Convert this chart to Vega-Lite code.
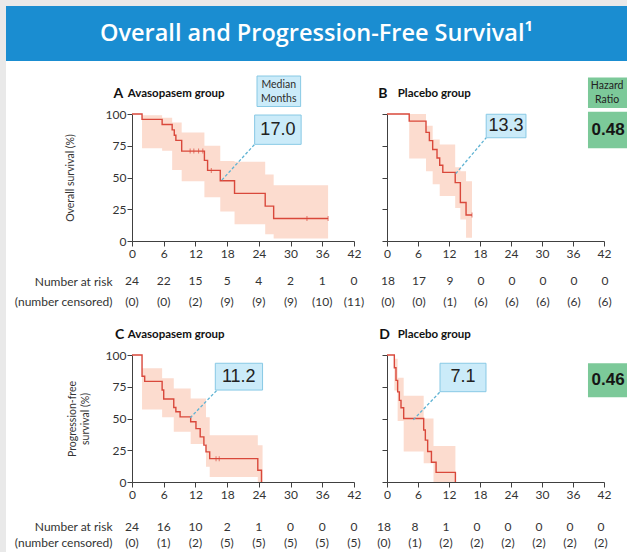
{
 "$schema": "https://vega.github.io/schema/vega-lite/v6.json",
 "padding": 0,
 "background": "#ffffff",
 "spacing": 0,
 "config": {
  "view": {"stroke": null},
  "axis": {"grid": false, "domainColor": "#404040", "tickColor": "#404040", "labelColor": "#333333", "labelFont": "Lato", "labelFontSize": 12, "tickSize": 5, "labelPadding": 1, "titleFont": "Lato", "titleFontSize": 10.5, "titleFontWeight": "normal", "titleColor": "#333333", "labelFlush": false, "labelOverlap": false},
  "axisX": {"labelPadding": 2}
 },
 "datasets": {
  "kmA": [{"t":0,"s":100},{"t":1.9,"s":95.8},{"t":5.7,"s":91.7},{"t":7.6,"s":87.5},{"t":8.0,"s":83.3},{"t":8.3,"s":79.2},{"t":9.4,"s":70.8},{"t":13.7,"s":63.5},{"t":14.3,"s":55.6},{"t":16.7,"s":47.4},{"t":19.4,"s":37.5},{"t":25.2,"s":27.5},{"t":26.8,"s":17.7},{"t":37.1,"s":17.7}],
  "ciA": [{"t":1.9,"lo":73,"hi":99},{"t":5.7,"lo":71,"hi":97},{"t":7.6,"lo":56,"hi":93.4},{"t":9.4,"lo":47,"hi":85.4},{"t":13.7,"lo":34.4,"hi":75},{"t":16.7,"lo":23.3,"hi":63},{"t":19.4,"lo":13.2,"hi":62.4},{"t":25.2,"lo":5.3,"hi":52.4},{"t":26.8,"lo":2,"hi":43.9},{"t":37.1,"lo":2,"hi":43.9}],
  "censA": [{"t":11.0,"s":70.8},{"t":11.7,"s":70.8},{"t":12.6,"s":70.8},{"t":13.4,"s":70.8},{"t":15.0,"s":55.6},{"t":33.1,"s":17.7},{"t":37.1,"s":17.7}],
  "kmB": [{"t":0,"s":100},{"t":4.3,"s":94.4},{"t":7.55,"s":85.5},{"t":8.2,"s":79},{"t":8.84,"s":72},{"t":9.68,"s":65.3},{"t":10.2,"s":59.7},{"t":10.8,"s":54},{"t":13.2,"s":46},{"t":14.2,"s":30.3},{"t":15.3,"s":20.5},{"t":16.45,"s":20.5}],
  "ciB": [{"t":4.3,"lo":65,"hi":100},{"t":7.55,"lo":55,"hi":90.8},{"t":8.84,"lo":44.7,"hi":80},{"t":10.2,"lo":35.5,"hi":76},{"t":13.2,"lo":26,"hi":58},{"t":14.2,"lo":17,"hi":55},{"t":15.3,"lo":2.6,"hi":47},{"t":16.45,"lo":2.6,"hi":47}],
  "censB": [{"t":16.45,"s":20.5}],
  "kmC": [{"t":0,"s":100},{"t":1.9,"s":83.3},{"t":2.4,"s":79.2},{"t":5.7,"s":72.4},{"t":6.0,"s":65.3},{"t":7.9,"s":58.7},{"t":8.3,"s":55.3},{"t":9.1,"s":51.3},{"t":11.1,"s":47.4},{"t":12.1,"s":42},{"t":12.9,"s":35.5},{"t":13.6,"s":29},{"t":14.0,"s":23.7},{"t":14.7,"s":18.4},{"t":23.8,"s":9.2},{"t":24.5,"s":0}],
  "ciC": [{"t":1.9,"lo":57,"hi":89.5},{"t":5.7,"lo":51,"hi":81.6},{"t":7.9,"lo":39.5,"hi":73.7},{"t":11.1,"lo":30,"hi":65.8},{"t":14.0,"lo":12,"hi":51},{"t":14.7,"lo":4,"hi":36.8},{"t":23.8,"lo":0,"hi":29},{"t":24.7,"lo":0,"hi":29}],
  "censC": [{"t":15.9,"s":18.4},{"t":16.5,"s":18.4}],
  "kmD": [{"t":0,"s":100},{"t":1.42,"s":90},{"t":1.74,"s":80},{"t":2.06,"s":71},{"t":2.39,"s":64.3},{"t":2.71,"s":58.5},{"t":3.23,"s":50},{"t":7.1,"s":41},{"t":7.42,"s":33},{"t":7.87,"s":24},{"t":8.6,"s":15.5},{"t":9.5,"s":7.6},{"t":13.24,"s":0}],
  "ciD": [{"t":1.42,"lo":72,"hi":97},{"t":2.06,"lo":48,"hi":82},{"t":3.23,"lo":24,"hi":68},{"t":7.1,"lo":14.7,"hi":50},{"t":9.0,"lo":0,"hi":28.3},{"t":13.24,"lo":0,"hi":28.3}],
  "medA": [{"label":"17.0","head":"Median\nMonths"}],
  "medB": [{"label":"13.3","hr":"0.48","head":"Hazard\nRatio"}],
  "medC": [{"label":"11.2"}],
  "medD": [{"label":"7.1","hr":"0.46"}],
  "grpA": [{"letter":"A","name":"Avasopasem group"}],
  "grpB": [{"letter":"B","name":"Placebo group"}],
  "grpC": [{"letter":"C","name":"Avasopasem group"}],
  "grpD": [{"letter":"D","name":"Placebo group"}],
  "rA": [{"t":0,"row":"Number at risk","v":"24"},{"t":6,"row":"Number at risk","v":"22"},{"t":12,"row":"Number at risk","v":"15"},{"t":18,"row":"Number at risk","v":"5"},{"t":24,"row":"Number at risk","v":"4"},{"t":30,"row":"Number at risk","v":"2"},{"t":36,"row":"Number at risk","v":"1"},{"t":42,"row":"Number at risk","v":"0"},
         {"t":0,"row":"(number censored)","v":"(0)"},{"t":6,"row":"(number censored)","v":"(0)"},{"t":12,"row":"(number censored)","v":"(2)"},{"t":18,"row":"(number censored)","v":"(9)"},{"t":24,"row":"(number censored)","v":"(9)"},{"t":30,"row":"(number censored)","v":"(9)"},{"t":36,"row":"(number censored)","v":"(10)"},{"t":42,"row":"(number censored)","v":"(11)"}],
  "rB": [{"t":0,"row":"Number at risk","v":"18"},{"t":6,"row":"Number at risk","v":"17"},{"t":12,"row":"Number at risk","v":"9"},{"t":18,"row":"Number at risk","v":"0"},{"t":24,"row":"Number at risk","v":"0"},{"t":30,"row":"Number at risk","v":"0"},{"t":36,"row":"Number at risk","v":"0"},{"t":42,"row":"Number at risk","v":"0"},
         {"t":0,"row":"(number censored)","v":"(0)"},{"t":6,"row":"(number censored)","v":"(0)"},{"t":12,"row":"(number censored)","v":"(1)"},{"t":18,"row":"(number censored)","v":"(6)"},{"t":24,"row":"(number censored)","v":"(6)"},{"t":30,"row":"(number censored)","v":"(6)"},{"t":36,"row":"(number censored)","v":"(6)"},{"t":42,"row":"(number censored)","v":"(6)"}],
  "rC": [{"t":0,"row":"Number at risk","v":"24"},{"t":6,"row":"Number at risk","v":"16"},{"t":12,"row":"Number at risk","v":"10"},{"t":18,"row":"Number at risk","v":"2"},{"t":24,"row":"Number at risk","v":"1"},{"t":30,"row":"Number at risk","v":"0"},{"t":36,"row":"Number at risk","v":"0"},{"t":42,"row":"Number at risk","v":"0"},
         {"t":0,"row":"(number censored)","v":"(0)"},{"t":6,"row":"(number censored)","v":"(1)"},{"t":12,"row":"(number censored)","v":"(2)"},{"t":18,"row":"(number censored)","v":"(5)"},{"t":24,"row":"(number censored)","v":"(5)"},{"t":30,"row":"(number censored)","v":"(5)"},{"t":36,"row":"(number censored)","v":"(5)"},{"t":42,"row":"(number censored)","v":"(5)"}],
  "rD": [{"t":0,"row":"Number at risk","v":"18"},{"t":6,"row":"Number at risk","v":"8"},{"t":12,"row":"Number at risk","v":"1"},{"t":18,"row":"Number at risk","v":"0"},{"t":24,"row":"Number at risk","v":"0"},{"t":30,"row":"Number at risk","v":"0"},{"t":36,"row":"Number at risk","v":"0"},{"t":42,"row":"Number at risk","v":"0"},
         {"t":0,"row":"(number censored)","v":"(0)"},{"t":6,"row":"(number censored)","v":"(1)"},{"t":12,"row":"(number censored)","v":"(2)"},{"t":18,"row":"(number censored)","v":"(2)"},{"t":24,"row":"(number censored)","v":"(2)"},{"t":30,"row":"(number censored)","v":"(2)"},{"t":36,"row":"(number censored)","v":"(2)"},{"t":42,"row":"(number censored)","v":"(2)"}]
 },
 "hconcat": [
  {"width": 6, "height": 552, "data": {"values": []}, "mark": "point", "view": {"fill": "#e9e9e9", "stroke": null}},
  {"spacing": 14, "vconcat": [
   {"spacing": 0, "vconcat": [
    {"width": 621, "height": 6, "data": {"values": []}, "mark": "point", "view": {"fill": "#e9e9e9", "stroke": null}},
    {"width": 621, "height": 55, "data": {"values": [{"title": "Overall and Progression-Free Survival¹"}]}, "mark": {"type": "text", "font": "Open Sans", "fontSize": 23.5, "fontWeight": 600, "color": "#ffffff"}, "encoding": {"text": {"field": "title"}}, "view": {"fill": "#1a8dd1", "stroke": null}}
   ]},
   {"spacing": 7, "hconcat": [
    {"width": 1, "height": 1, "data": {"values": []}, "mark": "point"},
    {"spacing": 4, "vconcat": [
     {"spacing": 17, "hconcat": [
      {"width": 222, "height": 127, "layer": [
       {"data": {"name": "ciA"}, "mark": {"type": "area", "interpolate": "step-after", "color": "#fcdccf"},
        "encoding": {"x": {"field": "t", "type": "quantitative", "scale": {"domain": [0, 42], "nice": false}, "axis": {"values": [0,6,12,18,24,30,36,42], "title": null}},
                     "y": {"field": "lo", "type": "quantitative", "scale": {"domain": [0, 100], "nice": false}, "axis": {"values": [0,25,50,75,100], "title": "Overall survival (%)", "titlePadding": 30}},
                     "y2": {"field": "hi"}}},
       {"data": {"name": "kmA"}, "mark": {"type": "line", "interpolate": "step-after", "color": "#d9483b", "strokeWidth": 1.4}, "encoding": {"x": {"field": "t", "type": "quantitative", "axis": {"values": [0,6,12,18,24,30,36,42], "title": null}}, "y": {"field": "s", "type": "quantitative", "axis": {"values": [0,25,50,75,100], "title": "Overall survival (%)", "titlePadding": 30}}}},
       {"data": {"name": "censA"}, "mark": {"type": "tick", "orient": "vertical", "size": 5, "thickness": 1, "color": "#d9483b"}, "encoding": {"x": {"field": "t", "type": "quantitative", "axis": {"values": [0,6,12,18,24,30,36,42], "title": null}}, "y": {"field": "s", "type": "quantitative", "axis": {"values": [0,25,50,75,100], "title": "Overall survival (%)", "titlePadding": 30}}}},
       {"data": {"name": "medA"}, "mark": {"type": "rule", "strokeDash": [3, 2], "color": "#5fb3d3", "strokeWidth": 1.3}, "encoding": {"x": {"datum": 17.0, "axis": {"values": [0,6,12,18,24,30,36,42], "title": null}}, "y": {"datum": 48, "axis": {"values": [0,25,50,75,100], "title": "Overall survival (%)", "titlePadding": 30}}, "x2": {"datum": 23.2}, "y2": {"datum": 76.1}}},
       {"data": {"name": "medA"}, "mark": {"type": "rect", "fill": "#cbebf9", "stroke": "#88c9e5", "strokeWidth": 1}, "encoding": {"x": {"datum": 23.65, "axis": {"values": [0,6,12,18,24,30,36,42], "title": null}}, "x2": {"datum": 31.9}, "y": {"datum": 105.9, "axis": {"values": [0,25,50,75,100], "title": "Overall survival (%)", "titlePadding": 30}}, "y2": {"datum": 129.9}}},
       {"data": {"name": "medA"}, "mark": {"type": "text", "font": "Lato", "fontSize": 10.5, "lineBreak": "\n", "lineHeight": 14.5, "color": "#2b2b2b"}, "encoding": {"x": {"datum": 27.76, "axis": {"values": [0,6,12,18,24,30,36,42], "title": null}}, "y": {"datum": 123.2, "axis": {"values": [0,25,50,75,100], "title": "Overall survival (%)", "titlePadding": 30}}, "text": {"field": "head"}}},
       {"data": {"name": "medA"}, "mark": {"type": "rect", "fill": "#cbebf9", "stroke": "#88c9e5", "strokeWidth": 1}, "encoding": {"x": {"datum": 23.2, "axis": {"values": [0,6,12,18,24,30,36,42], "title": null}}, "x2": {"datum": 32.0}, "y": {"datum": 76.1, "axis": {"values": [0,25,50,75,100], "title": "Overall survival (%)", "titlePadding": 30}}, "y2": {"datum": 99.2}}},
       {"data": {"name": "medA"}, "mark": {"type": "text", "font": "Liberation Sans", "fontSize": 18, "color": "#222222"}, "encoding": {"x": {"datum": 27.6, "axis": {"values": [0,6,12,18,24,30,36,42], "title": null}}, "y": {"datum": 87.6, "axis": {"values": [0,25,50,75,100], "title": "Overall survival (%)", "titlePadding": 30}}, "text": {"field": "label"}}},
       {"data": {"name": "grpA"}, "mark": {"type": "text", "align": "left", "font": "Lato", "fontSize": 14, "fontWeight": "bold", "color": "#111111"}, "encoding": {"x": {"datum": -3.5, "axis": {"values": [0,6,12,18,24,30,36,42], "title": null}}, "y": {"datum": 115.7, "axis": {"values": [0,25,50,75,100], "title": "Overall survival (%)", "titlePadding": 30}}, "text": {"field": "letter"}}},
       {"data": {"name": "grpA"}, "mark": {"type": "text", "align": "left", "font": "Lato", "fontSize": 11.5, "fontWeight": "bold", "color": "#111111"}, "encoding": {"x": {"datum": -0.8, "axis": {"values": [0,6,12,18,24,30,36,42], "title": null}}, "y": {"datum": 115.7, "axis": {"values": [0,25,50,75,100], "title": "Overall survival (%)", "titlePadding": 30}}, "text": {"field": "name"}}}
      ]},
      {"width": 217, "height": 127, "layer": [
       {"data": {"name": "ciB"}, "mark": {"type": "area", "interpolate": "step-after", "color": "#fcdccf"},
        "encoding": {"x": {"field": "t", "type": "quantitative", "scale": {"domain": [0, 42], "nice": false}, "axis": {"values": [0,6,12,18,24,30,36,42], "title": null}},
                     "y": {"field": "lo", "type": "quantitative", "scale": {"domain": [0, 100], "nice": false}, "axis": {"values": [0,25,50,75,100], "title": null, "labels": false}},
                     "y2": {"field": "hi"}}},
       {"data": {"name": "kmB"}, "mark": {"type": "line", "interpolate": "step-after", "color": "#d9483b", "strokeWidth": 1.4}, "encoding": {"x": {"field": "t", "type": "quantitative", "axis": {"values": [0,6,12,18,24,30,36,42], "title": null}}, "y": {"field": "s", "type": "quantitative", "axis": {"values": [0,25,50,75,100], "title": null, "labels": false}}}},
       {"data": {"name": "censB"}, "mark": {"type": "tick", "orient": "vertical", "size": 5, "thickness": 1, "color": "#d9483b"}, "encoding": {"x": {"field": "t", "type": "quantitative", "axis": {"values": [0,6,12,18,24,30,36,42], "title": null}}, "y": {"field": "s", "type": "quantitative", "axis": {"values": [0,25,50,75,100], "title": null, "labels": false}}}},
       {"data": {"name": "medB"}, "mark": {"type": "rule", "strokeDash": [3, 2], "color": "#5fb3d3", "strokeWidth": 1.3}, "encoding": {"x": {"datum": 13.3, "axis": {"values": [0,6,12,18,24,30,36,42], "title": null}}, "y": {"datum": 53, "axis": {"values": [0,25,50,75,100], "title": null, "labels": false}}, "x2": {"datum": 19.2}, "y2": {"datum": 81.3}}},
       {"data": {"name": "medB"}, "mark": {"type": "rect", "fill": "#cbebf9", "stroke": "#88c9e5", "strokeWidth": 1}, "encoding": {"x": {"datum": 19.2, "axis": {"values": [0,6,12,18,24,30,36,42], "title": null}}, "x2": {"datum": 26.9}, "y": {"datum": 81.3, "axis": {"values": [0,25,50,75,100], "title": null, "labels": false}}, "y2": {"datum": 99.8}}},
       {"data": {"name": "medB"}, "mark": {"type": "text", "font": "Liberation Sans", "fontSize": 18, "color": "#222222"}, "encoding": {"x": {"datum": 23.05, "axis": {"values": [0,6,12,18,24,30,36,42], "title": null}}, "y": {"datum": 90.5, "axis": {"values": [0,25,50,75,100], "title": null, "labels": false}}, "text": {"field": "label"}}},
       {"data": {"name": "medB"}, "mark": {"type": "rect", "fill": "#7cc999"}, "encoding": {"x": {"datum": 38.9, "axis": {"values": [0,6,12,18,24,30,36,42], "title": null}}, "x2": {"datum": 46.6}, "y": {"datum": 104.7, "axis": {"values": [0,25,50,75,100], "title": null, "labels": false}}, "y2": {"datum": 128.7}}},
       {"data": {"name": "medB"}, "mark": {"type": "text", "font": "Lato", "fontSize": 10.5, "lineBreak": "\n", "lineHeight": 14, "color": "#222222"}, "encoding": {"x": {"datum": 42.6, "axis": {"values": [0,6,12,18,24,30,36,42], "title": null}}, "y": {"datum": 122, "axis": {"values": [0,25,50,75,100], "title": null, "labels": false}}, "text": {"field": "head"}}},
       {"data": {"name": "medB"}, "mark": {"type": "rect", "fill": "#7cc999"}, "encoding": {"x": {"datum": 38.9, "axis": {"values": [0,6,12,18,24,30,36,42], "title": null}}, "x2": {"datum": 46.6}, "y": {"datum": 73, "axis": {"values": [0,25,50,75,100], "title": null, "labels": false}}, "y2": {"datum": 101.8}}},
       {"data": {"name": "medB"}, "mark": {"type": "text", "font": "Liberation Sans", "fontSize": 17, "fontWeight": "bold", "color": "#151515"}, "encoding": {"x": {"datum": 42.8, "axis": {"values": [0,6,12,18,24,30,36,42], "title": null}}, "y": {"datum": 87.4, "axis": {"values": [0,25,50,75,100], "title": null, "labels": false}}, "text": {"field": "hr"}}},
       {"data": {"name": "grpB"}, "mark": {"type": "text", "align": "left", "font": "Lato", "fontSize": 14, "fontWeight": "bold", "color": "#111111"}, "encoding": {"x": {"datum": -1.7, "axis": {"values": [0,6,12,18,24,30,36,42], "title": null}}, "y": {"datum": 115.7, "axis": {"values": [0,25,50,75,100], "title": null, "labels": false}}, "text": {"field": "letter"}}},
       {"data": {"name": "grpB"}, "mark": {"type": "text", "align": "left", "font": "Lato", "fontSize": 11.5, "fontWeight": "bold", "color": "#111111"}, "encoding": {"x": {"datum": 2.07, "axis": {"values": [0,6,12,18,24,30,36,42], "title": null}}, "y": {"datum": 115.7, "axis": {"values": [0,25,50,75,100], "title": null, "labels": false}}, "text": {"field": "name"}}}
      ]}
     ]},
     {"spacing": 16, "hconcat": [
      {"width": 222, "height": 61, "data": {"name": "rA"}, "mark": {"type": "text", "font": "Lato", "fontSize": 12, "color": "#333333"},
       "encoding": {"x": {"field": "t", "type": "quantitative", "scale": {"domain": [0, 42], "nice": false}, "axis": null},
                    "y": {"field": "row", "type": "nominal", "sort": ["Number at risk", "(number censored)"], "scale": {"type": "point", "padding": 1.294, "align": 0.4545}, "axis": {"title": null, "domain": false, "ticks": false, "tickSize": 0, "labelPadding": 20, "labelFontSize": 12, "labelColor": "#333333"}},
                    "text": {"field": "v"}}},
      {"width": 217, "height": 61, "data": {"name": "rB"}, "mark": {"type": "text", "font": "Lato", "fontSize": 12, "color": "#333333"},
       "encoding": {"x": {"field": "t", "type": "quantitative", "scale": {"domain": [0, 42], "nice": false}, "axis": null},
                    "y": {"field": "row", "type": "nominal", "sort": ["Number at risk", "(number censored)"], "scale": {"type": "point", "padding": 1.294, "align": 0.4545}, "axis": null},
                    "text": {"field": "v"}}}
     ]},
     {"spacing": 18, "hconcat": [
      {"width": 222, "height": 127, "layer": [
       {"data": {"name": "ciC"}, "mark": {"type": "area", "interpolate": "step-after", "color": "#fcdccf"},
        "encoding": {"x": {"field": "t", "type": "quantitative", "scale": {"domain": [0, 42], "nice": false}, "axis": {"values": [0,6,12,18,24,30,36,42], "title": null}},
                     "y": {"field": "lo", "type": "quantitative", "scale": {"domain": [0, 100], "nice": false}, "axis": {"values": [0,25,50,75,100], "title": ["Progression-free", "survival (%)"], "titlePadding": 15}},
                     "y2": {"field": "hi"}}},
       {"data": {"name": "kmC"}, "mark": {"type": "line", "interpolate": "step-after", "color": "#d9483b", "strokeWidth": 1.4}, "encoding": {"x": {"field": "t", "type": "quantitative", "axis": {"values": [0,6,12,18,24,30,36,42], "title": null}}, "y": {"field": "s", "type": "quantitative", "axis": {"values": [0,25,50,75,100], "title": ["Progression-free", "survival (%)"], "titlePadding": 15}}}},
       {"data": {"name": "censC"}, "mark": {"type": "tick", "orient": "vertical", "size": 5, "thickness": 1, "color": "#d9483b"}, "encoding": {"x": {"field": "t", "type": "quantitative", "axis": {"values": [0,6,12,18,24,30,36,42], "title": null}}, "y": {"field": "s", "type": "quantitative", "axis": {"values": [0,25,50,75,100], "title": ["Progression-free", "survival (%)"], "titlePadding": 15}}}},
       {"data": {"name": "medC"}, "mark": {"type": "rule", "strokeDash": [3, 2], "color": "#5fb3d3", "strokeWidth": 1.3}, "encoding": {"x": {"datum": 11.0, "axis": {"values": [0,6,12,18,24,30,36,42], "title": null}}, "y": {"datum": 50.5, "axis": {"values": [0,25,50,75,100], "title": ["Progression-free", "survival (%)"], "titlePadding": 15}}, "x2": {"datum": 16.1}, "y2": {"datum": 72.4}}},
       {"data": {"name": "medC"}, "mark": {"type": "rect", "fill": "#cbebf9", "stroke": "#88c9e5", "strokeWidth": 1}, "encoding": {"x": {"datum": 15.76, "axis": {"values": [0,6,12,18,24,30,36,42], "title": null}}, "x2": {"datum": 24.7}, "y": {"datum": 72.4, "axis": {"values": [0,25,50,75,100], "title": ["Progression-free", "survival (%)"], "titlePadding": 15}}, "y2": {"datum": 93.5}}},
       {"data": {"name": "medC"}, "mark": {"type": "text", "font": "Liberation Sans", "fontSize": 18, "color": "#222222"}, "encoding": {"x": {"datum": 20.2, "axis": {"values": [0,6,12,18,24,30,36,42], "title": null}}, "y": {"datum": 83, "axis": {"values": [0,25,50,75,100], "title": ["Progression-free", "survival (%)"], "titlePadding": 15}}, "text": {"field": "label"}}},
       {"data": {"name": "grpC"}, "mark": {"type": "text", "align": "left", "font": "Lato", "fontSize": 14, "fontWeight": "bold", "color": "#111111"}, "encoding": {"x": {"datum": -3.2, "axis": {"values": [0,6,12,18,24,30,36,42], "title": null}}, "y": {"datum": 115.7, "axis": {"values": [0,25,50,75,100], "title": ["Progression-free", "survival (%)"], "titlePadding": 15}}, "text": {"field": "letter"}}},
       {"data": {"name": "grpC"}, "mark": {"type": "text", "align": "left", "font": "Lato", "fontSize": 11.5, "fontWeight": "bold", "color": "#111111"}, "encoding": {"x": {"datum": -0.8, "axis": {"values": [0,6,12,18,24,30,36,42], "title": null}}, "y": {"datum": 115.7, "axis": {"values": [0,25,50,75,100], "title": ["Progression-free", "survival (%)"], "titlePadding": 15}}, "text": {"field": "name"}}}
      ]},
      {"width": 217, "height": 127, "layer": [
       {"data": {"name": "ciD"}, "mark": {"type": "area", "interpolate": "step-after", "color": "#fcdccf"},
        "encoding": {"x": {"field": "t", "type": "quantitative", "scale": {"domain": [0, 42], "nice": false}, "axis": {"values": [0,6,12,18,24,30,36,42], "title": null}},
                     "y": {"field": "lo", "type": "quantitative", "scale": {"domain": [0, 100], "nice": false}, "axis": {"values": [0,25,50,75,100], "title": null, "labels": false}},
                     "y2": {"field": "hi"}}},
       {"data": {"name": "kmD"}, "mark": {"type": "line", "interpolate": "step-after", "color": "#d9483b", "strokeWidth": 1.4}, "encoding": {"x": {"field": "t", "type": "quantitative", "axis": {"values": [0,6,12,18,24,30,36,42], "title": null}}, "y": {"field": "s", "type": "quantitative", "axis": {"values": [0,25,50,75,100], "title": null, "labels": false}}}},
       {"data": {"name": "medD"}, "mark": {"type": "rule", "strokeDash": [3, 2], "color": "#5fb3d3", "strokeWidth": 1.3}, "encoding": {"x": {"datum": 5.1, "axis": {"values": [0,6,12,18,24,30,36,42], "title": null}}, "y": {"datum": 49, "axis": {"values": [0,25,50,75,100], "title": null, "labels": false}}, "x2": {"datum": 10.3}, "y2": {"datum": 71.1}}},
       {"data": {"name": "medD"}, "mark": {"type": "rect", "fill": "#cbebf9", "stroke": "#88c9e5", "strokeWidth": 1}, "encoding": {"x": {"datum": 10.26, "axis": {"values": [0,6,12,18,24,30,36,42], "title": null}}, "x2": {"datum": 19.16}, "y": {"datum": 71.1, "axis": {"values": [0,25,50,75,100], "title": null, "labels": false}}, "y2": {"datum": 93.5}}},
       {"data": {"name": "medD"}, "mark": {"type": "text", "font": "Liberation Sans", "fontSize": 18, "color": "#222222"}, "encoding": {"x": {"datum": 14.7, "axis": {"values": [0,6,12,18,24,30,36,42], "title": null}}, "y": {"datum": 82.3, "axis": {"values": [0,25,50,75,100], "title": null, "labels": false}}, "text": {"field": "label"}}},
       {"data": {"name": "medD"}, "mark": {"type": "rect", "fill": "#7cc999"}, "encoding": {"x": {"datum": 38.9, "axis": {"values": [0,6,12,18,24,30,36,42], "title": null}}, "x2": {"datum": 46.6}, "y": {"datum": 66.7, "axis": {"values": [0,25,50,75,100], "title": null, "labels": false}}, "y2": {"datum": 93.5}}},
       {"data": {"name": "medD"}, "mark": {"type": "text", "font": "Liberation Sans", "fontSize": 17, "fontWeight": "bold", "color": "#151515"}, "encoding": {"x": {"datum": 42.8, "axis": {"values": [0,6,12,18,24,30,36,42], "title": null}}, "y": {"datum": 80.1, "axis": {"values": [0,25,50,75,100], "title": null, "labels": false}}, "text": {"field": "hr"}}},
       {"data": {"name": "grpD"}, "mark": {"type": "text", "align": "left", "font": "Lato", "fontSize": 14, "fontWeight": "bold", "color": "#111111"}, "encoding": {"x": {"datum": -1.5, "axis": {"values": [0,6,12,18,24,30,36,42], "title": null}}, "y": {"datum": 115.7, "axis": {"values": [0,25,50,75,100], "title": null, "labels": false}}, "text": {"field": "letter"}}},
       {"data": {"name": "grpD"}, "mark": {"type": "text", "align": "left", "font": "Lato", "fontSize": 11.5, "fontWeight": "bold", "color": "#111111"}, "encoding": {"x": {"datum": 2.07, "axis": {"values": [0,6,12,18,24,30,36,42], "title": null}}, "y": {"datum": 115.7, "axis": {"values": [0,25,50,75,100], "title": null, "labels": false}}, "text": {"field": "name"}}}
      ]}
     ]},
     {"spacing": 16, "hconcat": [
      {"width": 222, "height": 47, "data": {"name": "rC"}, "mark": {"type": "text", "font": "Lato", "fontSize": 12, "color": "#333333"},
       "encoding": {"x": {"field": "t", "type": "quantitative", "scale": {"domain": [0, 42], "nice": false}, "axis": null},
                    "y": {"field": "row", "type": "nominal", "sort": ["Number at risk", "(number censored)"], "scale": {"type": "point", "padding": 0.969, "align": 0.726}, "axis": {"title": null, "domain": false, "ticks": false, "tickSize": 0, "labelPadding": 20, "labelFontSize": 12, "labelColor": "#333333"}},
                    "text": {"field": "v"}}},
      {"width": 217, "height": 47, "data": {"name": "rD"}, "mark": {"type": "text", "font": "Lato", "fontSize": 12, "color": "#333333"},
       "encoding": {"x": {"field": "t", "type": "quantitative", "scale": {"domain": [0, 42], "nice": false}, "axis": null},
                    "y": {"field": "row", "type": "nominal", "sort": ["Number at risk", "(number censored)"], "scale": {"type": "point", "padding": 0.969, "align": 0.726}, "axis": null},
                    "text": {"field": "v"}}}
     ]}
    ]}
   ]}
  ]}
 ]
}
